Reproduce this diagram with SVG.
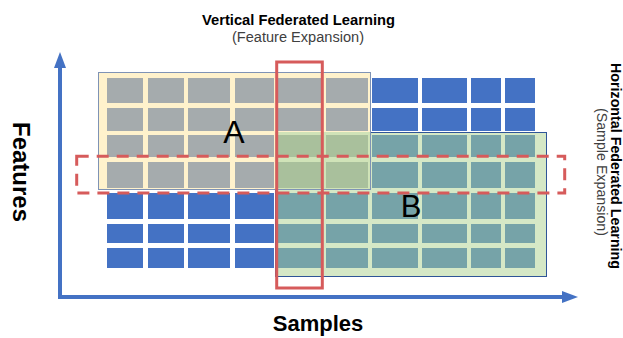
<svg xmlns="http://www.w3.org/2000/svg" width="623" height="338" viewBox="0 0 623 338">
<style>
.blue{fill:#4472C4}
.grey{fill:#A5ABAD}
.teal{fill:#76A3A8}
.mix{fill:#A9C09C}
.axis{stroke:#4472C4;stroke-width:4;fill:none}
.hl{fill:none;stroke:#D65B5B;stroke-width:3}
.t{font-family:"Liberation Sans",Arial,sans-serif}
</style>
<defs>
<marker id="arr" markerUnits="userSpaceOnUse" markerWidth="18" markerHeight="14" refX="2" refY="7" orient="auto">
<path d="M0,1 L16,7 L0,13 Z" fill="#4472C4"/>
</marker>
</defs>
<rect width="623" height="338" fill="#FFFFFF"/>

<g id="connectors">
<line class="axis" x1="60" y1="299" x2="60" y2="66" marker-end="url(#arr)"/>
<line class="axis" x1="58" y1="297" x2="564" y2="297" marker-end="url(#arr)"/>
</g>

<g id="blue-data">
<rect class="blue" x="372" y="78" width="46" height="25"/>
<rect class="blue" x="422" y="78" width="45" height="25"/>
<rect class="blue" x="471" y="78" width="30" height="25"/>
<rect class="blue" x="505" y="78" width="30" height="25"/>
<rect class="blue" x="372" y="108" width="46" height="23"/>
<rect class="blue" x="422" y="108" width="45" height="23"/>
<rect class="blue" x="471" y="108" width="30" height="23"/>
<rect class="blue" x="505" y="108" width="30" height="23"/>
<rect class="blue" x="107" y="193" width="36" height="26"/>
<rect class="blue" x="148" y="193" width="36" height="26"/>
<rect class="blue" x="188" y="193" width="42" height="26"/>
<rect class="blue" x="235" y="193" width="39" height="26"/>
<rect class="blue" x="107" y="224" width="36" height="19"/>
<rect class="blue" x="148" y="224" width="36" height="19"/>
<rect class="blue" x="188" y="224" width="42" height="19"/>
<rect class="blue" x="235" y="224" width="39" height="19"/>
<rect class="blue" x="107" y="248" width="36" height="20"/>
<rect class="blue" x="148" y="248" width="36" height="20"/>
<rect class="blue" x="188" y="248" width="42" height="20"/>
<rect class="blue" x="235" y="248" width="39" height="20"/>
</g>

<g id="node-B">
<rect x="275.5" y="132.5" width="271" height="144" fill="#D5E8C6" stroke="#2F5597" stroke-width="1"/>
<rect class="teal" x="372" y="135" width="46" height="22"/>
<rect class="teal" x="422" y="135" width="45" height="22"/>
<rect class="teal" x="471" y="135" width="30" height="22"/>
<rect class="teal" x="505" y="135" width="30" height="22"/>
<rect class="teal" x="372" y="162" width="46" height="26"/>
<rect class="teal" x="422" y="162" width="45" height="26"/>
<rect class="teal" x="471" y="162" width="30" height="26"/>
<rect class="teal" x="505" y="162" width="30" height="26"/>
<rect class="teal" x="278" y="193" width="44" height="26"/>
<rect class="teal" x="326" y="193" width="42" height="26"/>
<rect class="teal" x="372" y="193" width="46" height="26"/>
<rect class="teal" x="422" y="193" width="45" height="26"/>
<rect class="teal" x="471" y="193" width="30" height="26"/>
<rect class="teal" x="505" y="193" width="30" height="26"/>
<rect class="teal" x="278" y="224" width="44" height="19"/>
<rect class="teal" x="326" y="224" width="42" height="19"/>
<rect class="teal" x="372" y="224" width="46" height="19"/>
<rect class="teal" x="422" y="224" width="45" height="19"/>
<rect class="teal" x="471" y="224" width="30" height="19"/>
<rect class="teal" x="505" y="224" width="30" height="19"/>
<rect class="teal" x="278" y="248" width="44" height="20"/>
<rect class="teal" x="326" y="248" width="42" height="20"/>
<rect class="teal" x="372" y="248" width="46" height="20"/>
<rect class="teal" x="422" y="248" width="45" height="20"/>
<rect class="teal" x="471" y="248" width="30" height="20"/>
<rect class="teal" x="505" y="248" width="30" height="20"/>
<text class="t" x="411" y="217" font-size="31" text-anchor="middle" fill="#000">B</text>
</g>

<g id="node-A">
<path d="M98,72 H371 V132 H275 V190 H98 Z" fill="#FFF2CC"/>
<rect x="275" y="132" width="96" height="58" fill="#D0E3B8"/>
<rect class="grey" x="107" y="78" width="36" height="25"/>
<rect class="grey" x="148" y="78" width="36" height="25"/>
<rect class="grey" x="188" y="78" width="42" height="25"/>
<rect class="grey" x="235" y="78" width="39" height="25"/>
<rect class="grey" x="278" y="78" width="44" height="25"/>
<rect class="grey" x="326" y="78" width="42" height="25"/>
<rect class="grey" x="107" y="108" width="36" height="23"/>
<rect class="grey" x="148" y="108" width="36" height="23"/>
<rect class="grey" x="188" y="108" width="42" height="23"/>
<rect class="grey" x="235" y="108" width="39" height="23"/>
<rect class="grey" x="278" y="108" width="44" height="23"/>
<rect class="grey" x="326" y="108" width="42" height="23"/>
<rect class="grey" x="107" y="135" width="36" height="22"/>
<rect class="grey" x="148" y="135" width="36" height="22"/>
<rect class="grey" x="188" y="135" width="42" height="22"/>
<rect class="grey" x="235" y="135" width="39" height="22"/>
<rect class="mix" x="278" y="135" width="44" height="22"/>
<rect class="mix" x="326" y="135" width="42" height="22"/>
<rect class="grey" x="107" y="162" width="36" height="26"/>
<rect class="grey" x="148" y="162" width="36" height="26"/>
<rect class="grey" x="188" y="162" width="42" height="26"/>
<rect class="grey" x="235" y="162" width="39" height="26"/>
<rect class="mix" x="278" y="162" width="44" height="26"/>
<rect class="mix" x="326" y="162" width="42" height="26"/>
<rect x="98.5" y="72.5" width="272" height="117" fill="none" stroke="#7F93B5" stroke-width="1"/>
<text class="t" x="234" y="143" font-size="32" text-anchor="middle" fill="#000">A</text>
</g>

<g id="vertical-highlight">
<rect class="hl" x="276.7" y="62" width="45.6" height="226"/>
</g>

<g id="horizontal-highlight">
<rect class="hl" x="76.7" y="156.3" width="488" height="36.7" stroke-dasharray="12 8"/>
</g>

<g id="labels">
<text class="t" x="298.5" y="25" font-size="14" font-weight="bold" text-anchor="middle" textLength="193" lengthAdjust="spacingAndGlyphs" fill="#000">Vertical Federated Learning</text>
<text class="t" x="298" y="42" font-size="14" text-anchor="middle" textLength="132" lengthAdjust="spacingAndGlyphs" fill="#404040">(Feature Expansion)</text>
<text class="t" x="318" y="331" font-size="22" font-weight="bold" text-anchor="middle" fill="#000">Samples</text>
<text class="t" transform="translate(13,172) rotate(90)" font-size="24" font-weight="bold" text-anchor="middle" fill="#000">Features</text>
<text class="t" transform="translate(610.5,166) rotate(90)" font-size="14" font-weight="bold" text-anchor="middle" textLength="206" lengthAdjust="spacingAndGlyphs" fill="#000">Horizontal Federated Learning</text>
<text class="t" transform="translate(596.5,172) rotate(90)" font-size="14" text-anchor="middle" textLength="128" lengthAdjust="spacingAndGlyphs" fill="#404040">(Sample Expansion)</text>
</g>
</svg>
